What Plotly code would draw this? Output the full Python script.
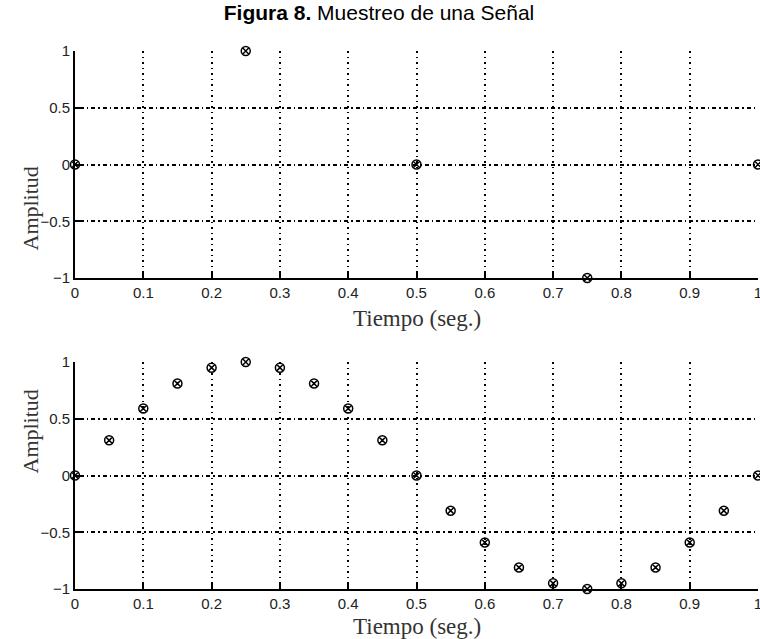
import plotly.graph_objects as go

# Data
t_top = [0, 0.25, 0.5, 0.75, 1.0]
amp_top = [0, 1, 0, -1, 0]

t_bottom = [0, 0.05, 0.10, 0.15, 0.20, 0.25, 0.30, 0.35, 0.40, 0.45, 0.50,
            0.55, 0.60, 0.65, 0.70, 0.75, 0.80, 0.85, 0.90, 0.95, 1.0]
amp_bottom = [0, 0.31, 0.59, 0.81, 0.95, 1.0, 0.95, 0.81, 0.59, 0.31, 0,
              -0.31, -0.59, -0.81, -0.95, -1.0, -0.95, -0.81, -0.59, -0.31, 0]

x_tickvals = [0, 0.1, 0.2, 0.3, 0.4, 0.5, 0.6, 0.7, 0.8, 0.9, 1]
x_ticktext = ["0", "0.1", "0.2", "0.3", "0.4", "0.5", "0.6", "0.7", "0.8", "0.9", "1"]
y_tickvals = [-1, -0.5, 0, 0.5, 1]
y_ticktext = ["\u22121", "\u22120.5", "0", "0.5", "1"]

title_text = "<b>Figura 8.</b> Muestreo de una Señal"
x_label = "Tiempo (seg.)"
y_label = "Amplitud"

W, H = 760, 639

fig = go.Figure()

marker_style = dict(symbol="circle-x-open", size=9, color="black",
                    line=dict(width=1.5, color="black"))

fig.add_trace(go.Scatter(x=t_top, y=amp_top, mode="markers", marker=marker_style,
                         xaxis="x", yaxis="y", cliponaxis=False, showlegend=False))
fig.add_trace(go.Scatter(x=t_bottom, y=amp_bottom, mode="markers", marker=marker_style,
                         xaxis="x2", yaxis="y2", cliponaxis=False, showlegend=False))

tick_font = dict(family="Liberation Sans, Arial", size=15, color="#222")
common_x = dict(range=[0, 1], tickvals=x_tickvals, ticktext=x_ticktext,
                showgrid=True, gridcolor="black", gridwidth=1.5, griddash="1.5px,4px",
                showline=True, linecolor="black", linewidth=2,
                ticks="inside", ticklen=5, tickcolor="black", tickwidth=1.5,
                tickfont=tick_font, automargin=False, ticklabeloverflow="allow",
                zeroline=False, mirror=False)
common_y = dict(range=[-1, 1], tickvals=y_tickvals, ticktext=y_ticktext,
                showgrid=True, gridcolor="black", gridwidth=1.5, griddash="1.5px,3px,4px,3px",
                showline=True, linecolor="black", linewidth=2,
                ticks="inside", ticklen=5, tickcolor="black", tickwidth=1.5,
                tickfont=tick_font, automargin=False, ticklabeloverflow="allow",
                zeroline=False, mirror=False)

mt, mb = 51, 50
ph = H - mt - mb
bottom_px = H - mb  # y pixel of bottom axis (-1 of lower plot)
top_dom = [(bottom_px - 278) / ph, 1.0]
bot_dom = [0.0, (bottom_px - 362) / ph]

fig.update_layout(
    width=W, height=H,
    margin=dict(l=75, r=2, t=mt, b=mb, autoexpand=False),
    paper_bgcolor="white", plot_bgcolor="white",
    xaxis=dict(**common_x, anchor="y", domain=[0, 1]),
    yaxis=dict(**common_y, anchor="x", domain=top_dom),
    xaxis2=dict(**common_x, anchor="y2", domain=[0, 1]),
    yaxis2=dict(**common_y, anchor="x2", domain=bot_dom),
    title=dict(text=title_text, x=379 / W, xref="container", xanchor="center",
               y=1 - 5 / H, yref="container", yanchor="top", pad=dict(t=0),
               font=dict(family="Liberation Sans, Arial", size=21, color="black")),
)

label_font_x = dict(family="Liberation Serif, Times New Roman", size=23, color="#333")
label_font_y = dict(family="Liberation Serif, Times New Roman", size=22, color="#333")
annotations = [
    dict(text=x_label, x=0.5, xref="paper", y=top_dom[0], yref="paper",
         yshift=-40, showarrow=False, font=label_font_x, yanchor="middle"),
    dict(text=x_label, x=0.5, xref="paper", y=bot_dom[0], yref="paper",
         yshift=-37, showarrow=False, font=label_font_x, yanchor="middle"),
    dict(text=y_label, x=0, xref="paper", y=sum(top_dom) / 2, yref="paper",
         xshift=-45, textangle=-90, showarrow=False, font=label_font_y, xanchor="center"),
    dict(text=y_label, x=0, xref="paper", y=sum(bot_dom) / 2, yref="paper",
         xshift=-45, textangle=-90, showarrow=False, font=label_font_y, xanchor="center"),
]
fig.update_layout(annotations=annotations)

page_fix = ("document.body.style.margin='0';"
            "document.body.style.padding='0';"
            "document.documentElement.style.overflow='hidden';"
            "document.body.style.overflow='hidden';")

fig.write_html("out.html", post_script=page_fix, config={"displayModeBar": False})
